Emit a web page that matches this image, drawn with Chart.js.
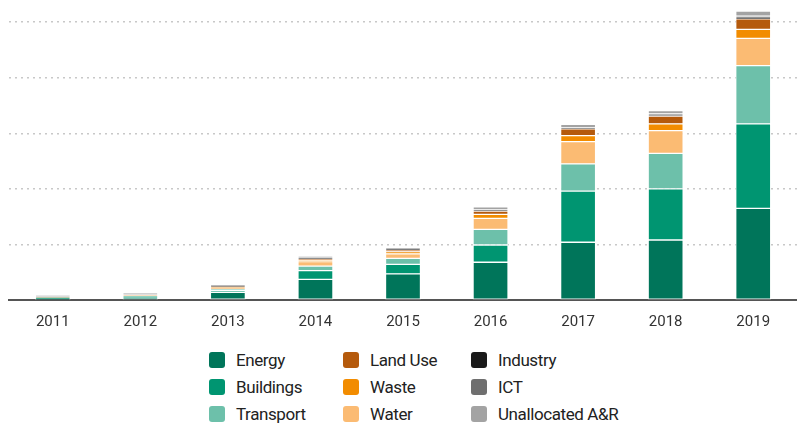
<!DOCTYPE html>
<html>
<head>
<meta charset="utf-8">
<script src="https://cdn.jsdelivr.net/npm/chart.js@4.4.1/dist/chart.umd.min.js"></script>
<style>
  body { margin: 0; background: #fff; }
  #wrap { position: relative; width: 797px; height: 423px; overflow: hidden; }
  #chart_box { position: absolute; left: 0; top: 0; width: 797px; height: 335px; }
  #legend {
    position: absolute; left: 209px; top: 346px;
    display: grid; grid-template-columns: 134px 128px 160px; grid-auto-rows: 27px;
    font-family: "Liberation Sans Narrow", "Roboto", sans-serif; font-size: 17px;
    letter-spacing: -0.4px; color: #222;
  }
  .item { display: flex; align-items: center; white-space: nowrap; }
  .box { width: 16px; height: 16px; border-radius: 3px; margin-right: 11px; flex: none; }
</style>
</head>
<body>
<div id="wrap">
  <div id="chart_box"><canvas id="myChart"></canvas></div>
  <div id="legend"></div>
</div>
<script>
// data ------------------------------------------
const years = ['2011', '2012', '2013', '2014', '2015', '2016', '2017', '2018', '2019'];

const energy      = [0.02, 0.025, 0.14, 0.37, 0.47, 0.68, 1.04, 1.08, 1.65];
const buildings   = [0.012, 0.025, 0.035, 0.16, 0.17, 0.31, 0.92, 0.92, 1.52];
const transport   = [0.013, 0.03, 0.02, 0.08, 0.11, 0.28, 0.49, 0.64, 1.05];
const water       = [0.005, 0.005, 0.03, 0.08, 0.08, 0.20, 0.40, 0.41, 0.49];
const waste       = [0, 0, 0.005, 0.02, 0.04, 0.07, 0.11, 0.12, 0.16];
const landUse     = [0, 0, 0.005, 0.03, 0.03, 0.06, 0.12, 0.14, 0.19];
const industry    = [0, 0, 0, 0.005, 0.005, 0.005, 0.005, 0.01, 0.01];
const ict         = [0.005, 0.005, 0.01, 0.01, 0.01, 0.015, 0.015, 0.03, 0.04];
const unallocated = [0.035, 0.04, 0.035, 0.035, 0.03, 0.055, 0.06, 0.06, 0.09];

const series = [
  { label: 'Energy', data: energy, color: '#00755a' },
  { label: 'Buildings', data: buildings, color: '#009571' },
  { label: 'Transport', data: transport, color: '#6dc0aa' },
  { label: 'Water', data: water, color: '#fbbb73' },
  { label: 'Waste', data: waste, color: '#f28c00' },
  { label: 'Land Use', data: landUse, color: '#b55a0c' },
  { label: 'Industry', data: industry, color: '#1a1a1a' },
  { label: 'ICT', data: ict, color: '#6f6f6f' },
  { label: 'Unallocated A&R', data: unallocated, color: '#a3a3a3' }
];

// legend order as in the picture (3 columns)
const legendOrder = ['Energy', 'Land Use', 'Industry', 'Buildings', 'Waste', 'ICT', 'Transport', 'Water', 'Unallocated A&R'];

// chart -----------------------------------------
const ctx = document.getElementById('myChart').getContext('2d');
const chart = new Chart(ctx, {
  type: 'bar',
  data: {
    labels: years,
    datasets: series.map(s => ({
      label: s.label,
      data: s.data,
      backgroundColor: s.color,
      borderColor: 'rgba(255,255,255,0.8)',
      borderWidth: 1,
      borderSkipped: false,
      barThickness: 35
    }))
  },
  options: {
    responsive: true,
    maintainAspectRatio: false,
    animation: false,
    layout: { padding: { left: 9, right: -20, top: 0, bottom: 0 } },
    plugins: { legend: { display: false }, tooltip: { enabled: false } },
    scales: {
      x: {
        stacked: true,
        grid: { display: false },
        border: { display: true, color: '#555', width: 2 },
        ticks: {
          color: '#333',
          padding: 5,
          font: { family: '"Liberation Sans Narrow", Roboto, sans-serif', size: 15 }
        },
        afterFit: s => { s.height = 35; }
      },
      y: {
        stacked: true,
        min: 0,
        max: 5.4,
        ticks: { display: false, stepSize: 1 },
        border: { display: false, dash: [2, 4] },
        grid: {
          color: c => (c.tick && Number.isInteger(c.tick.value) && c.tick.value > 0) ? '#c8c8c8' : 'rgba(0,0,0,0)',
          lineWidth: 1.5,
          drawTicks: false
        },
        afterFit: s => { s.width = 0; }
      }
    }
  }
});

// legend ----------------------------------------
const legend = document.getElementById('legend');
legendOrder.forEach(name => {
  const s = series.find(x => x.label === name);
  const el = document.createElement('div');
  el.className = 'item';
  el.innerHTML = '<span class="box" style="background:' + s.color + '"></span><span>' + s.label + '</span>';
  legend.appendChild(el);
});
</script>
</body>
</html>
